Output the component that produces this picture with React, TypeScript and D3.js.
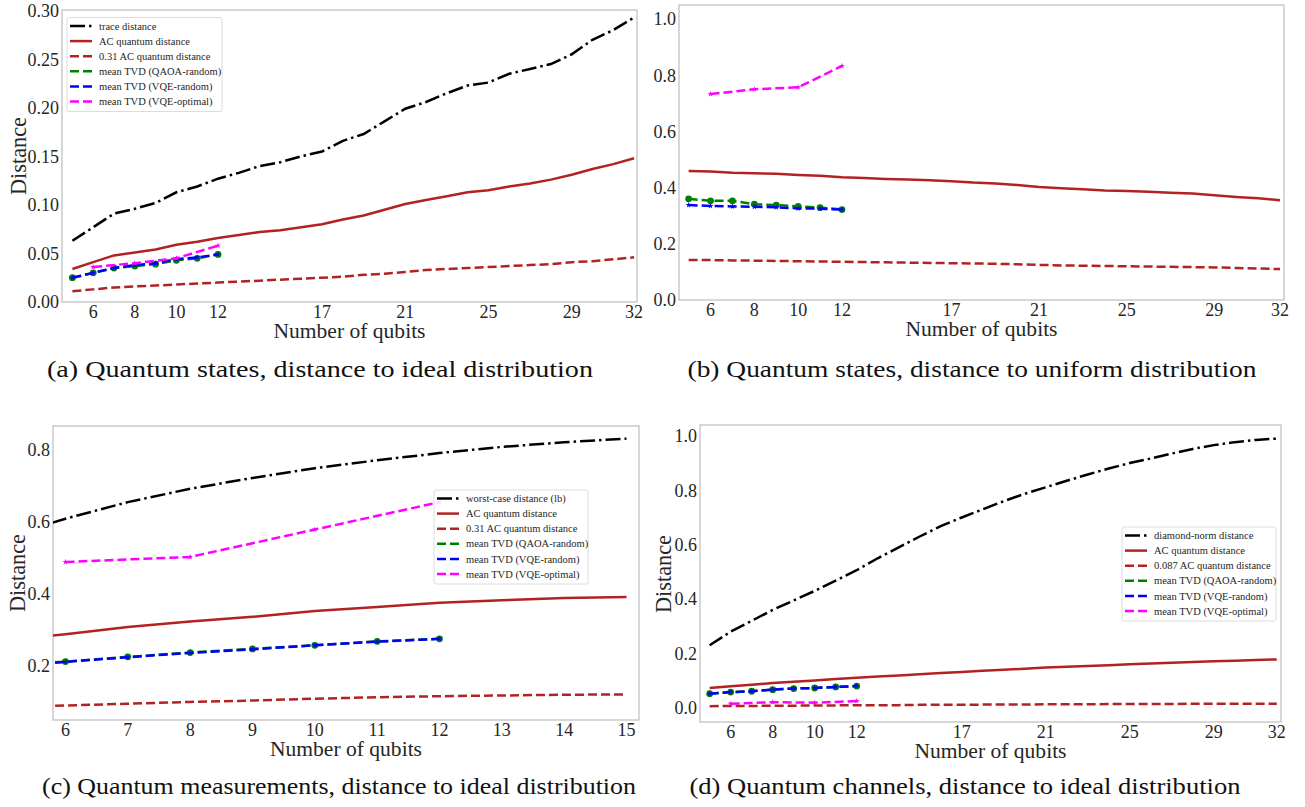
import React from "react";
import * as d3 from "d3";

// ---- data ----
const qubitsAll = [5, 6, 7, 8, 9, 10, 11, 12, 13, 14, 15, 16, 17, 18, 19, 20, 21, 22, 23, 24, 25, 26, 27, 28, 29, 30, 31, 32];
const qubitsSmall = [5, 6, 7, 8, 9, 10, 11, 12];
const qubitsEven = [6, 8, 10, 12];
const qubitsMeas = [5, 6, 7, 8, 9, 10, 11, 12, 13, 14, 15];

const ticksWide = [6, 8, 10, 12, 17, 21, 25, 29, 32];
const ticksMeas = [6, 7, 8, 9, 10, 11, 12, 13, 14, 15];

// (a) quantum states, ideal distribution
const traceDistA = [0.063, 0.077, 0.091, 0.096, 0.102, 0.113, 0.119, 0.127, 0.133, 0.14, 0.144, 0.15, 0.155, 0.166, 0.173, 0.186, 0.199, 0.206, 0.215, 0.223, 0.226, 0.235, 0.24, 0.245, 0.255, 0.27, 0.28, 0.293];
const acA = [0.034, 0.041, 0.048, 0.051, 0.054, 0.059, 0.062, 0.066, 0.069, 0.072, 0.074, 0.077, 0.08, 0.085, 0.089, 0.095, 0.101, 0.105, 0.109, 0.113, 0.115, 0.119, 0.122, 0.126, 0.131, 0.137, 0.142, 0.148];
const acScaledA = [0.011, 0.013, 0.015, 0.016, 0.017, 0.018, 0.019, 0.02, 0.021, 0.022, 0.023, 0.024, 0.025, 0.026, 0.028, 0.029, 0.031, 0.033, 0.034, 0.035, 0.036, 0.037, 0.038, 0.039, 0.041, 0.042, 0.044, 0.046];
const qaoaA = [0.025, 0.03, 0.035, 0.037, 0.039, 0.043, 0.045, 0.049];
const vqeRandA = [0.025, 0.03, 0.035, 0.038, 0.04, 0.044, 0.046, 0.049];
const vqeOptA = [0.036, 0.04, 0.045, 0.058];

// (b) quantum states, uniform distribution
const acB = [0.459, 0.457, 0.453, 0.451, 0.449, 0.445, 0.442, 0.437, 0.434, 0.431, 0.429, 0.426, 0.423, 0.418, 0.415, 0.409, 0.402, 0.398, 0.394, 0.39, 0.388, 0.385, 0.382, 0.379, 0.373, 0.367, 0.362, 0.355];
const acScaledB = [0.142, 0.142, 0.141, 0.14, 0.139, 0.138, 0.137, 0.136, 0.135, 0.134, 0.133, 0.132, 0.131, 0.13, 0.129, 0.127, 0.125, 0.123, 0.122, 0.121, 0.12, 0.119, 0.118, 0.117, 0.116, 0.114, 0.112, 0.11];
const qaoaB = [0.36, 0.353, 0.353, 0.341, 0.338, 0.333, 0.329, 0.322];
const vqeRandB = [0.338, 0.335, 0.333, 0.332, 0.33, 0.326, 0.325, 0.322];
const vqeOptB = [0.733, 0.75, 0.757, 0.833];

// (c) quantum measurements
const worstC = [0.555, 0.608, 0.654, 0.691, 0.721, 0.748, 0.77, 0.79, 0.807, 0.82, 0.83];
const acC = [0.268, 0.288, 0.308, 0.323, 0.336, 0.352, 0.363, 0.375, 0.382, 0.388, 0.391];
const acScaledC = [0.085, 0.09, 0.095, 0.1, 0.104, 0.109, 0.113, 0.116, 0.118, 0.12, 0.121];
const qaoaC = [0.199, 0.212, 0.225, 0.237, 0.247, 0.257, 0.268, 0.275];
const vqeRandC = [0.199, 0.211, 0.224, 0.236, 0.246, 0.257, 0.267, 0.275];
const vqeOptC = [0.488, 0.502, 0.578, 0.654];

// (d) quantum channels
const diamondD = [0.23, 0.28, 0.32, 0.36, 0.395, 0.43, 0.468, 0.506, 0.55, 0.59, 0.63, 0.668, 0.7, 0.73, 0.76, 0.787, 0.811, 0.835, 0.858, 0.88, 0.9, 0.917, 0.935, 0.952, 0.966, 0.977, 0.985, 0.99];
const acD = [0.073, 0.079, 0.085, 0.091, 0.096, 0.101, 0.106, 0.111, 0.115, 0.119, 0.124, 0.128, 0.132, 0.136, 0.14, 0.144, 0.148, 0.151, 0.154, 0.157, 0.16, 0.163, 0.166, 0.169, 0.171, 0.173, 0.176, 0.178];
const acScaledD = [0.006, 0.007, 0.007, 0.008, 0.008, 0.009, 0.009, 0.01, 0.01, 0.01, 0.011, 0.011, 0.011, 0.012, 0.012, 0.012, 0.013, 0.013, 0.013, 0.014, 0.014, 0.014, 0.014, 0.015, 0.015, 0.015, 0.015, 0.015];
const qaoaD = [0.052, 0.058, 0.061, 0.067, 0.071, 0.073, 0.077, 0.08];
const vqeRandD = [0.052, 0.058, 0.061, 0.067, 0.071, 0.073, 0.077, 0.08];
const vqeOptD = [0.015, 0.021, 0.019, 0.025];

const tvdLabels = ["mean TVD (QAOA-random)", "mean TVD (VQE-random)", "mean TVD (VQE-optimal)"];

const FONT = "'Liberation Serif', 'DejaVu Serif', serif";
const FIREBRICK = "#b22222";
const DASH = "9,4";

type Marker = "circle" | "star" | null;
interface Series {
  label: string;
  xs: number[];
  ys: number[];
  color: string;
  dash: string | null;
  marker: Marker;
}

// line styles, in matplotlib plotting order
const STYLES: { color: string; dash: string | null; marker: Marker }[] = [
  { color: "#000000", dash: "15,4,2.5,4", marker: null },
  { color: FIREBRICK, dash: null, marker: null },
  { color: FIREBRICK, dash: DASH, marker: null },
  { color: "#008000", dash: DASH, marker: "circle" },
  { color: "#0000ff", dash: DASH, marker: "star" },
  { color: "#ff00ff", dash: DASH, marker: "star" },
];

function buildSeries(styleIdx: number[], labels: string[], xsList: number[][], ysList: number[][]): Series[] {
  return labels.map((label, i) => ({ label, xs: xsList[i], ys: ysList[i], ...STYLES[styleIdx[i]] }));
}

interface PanelProps {
  id: string;
  box: { left: number; right: number; top: number; bottom: number };
  xDomain: [number, number];
  yDomain: [number, number];
  xTicks: number[];
  yTicks: number[];
  yFmt: string;
  series: Series[];
  legend?: { x: number; y: number; w: number; h: number };
  yLabel?: { x: number; y: number };
  caption: { x: number; y: number; text: string; len: number };
}

const Panel: React.FC<PanelProps> = ({ id, box, xDomain, yDomain, xTicks, yTicks, yFmt, series, legend, yLabel, caption }) => {
  const x = d3.scaleLinear().domain(xDomain).range([box.left, box.right]);
  const y = d3.scaleLinear().domain(yDomain).range([box.bottom, box.top]);
  const fmt = d3.format(yFmt);
  const starPath = d3.symbol().type(d3.symbolStar).size(11)() as string;
  const pathFor = (s: Series) =>
    d3
      .line<number>()
      .x((_, i) => x(s.xs[i]))
      .y((d) => y(d))(s.ys) as string;

  return (
    <g>
      <defs>
        <clipPath id={id}>
          <rect x={box.left} y={box.top} width={box.right - box.left} height={box.bottom - box.top} />
        </clipPath>
      </defs>
      <rect
        x={box.left}
        y={box.top}
        width={box.right - box.left}
        height={box.bottom - box.top}
        fill="none"
        stroke="#bcbcbc"
        strokeWidth={1.2}
      />
      {yTicks.map((t) => (
        <text key={"y" + t} x={box.left - 3} y={y(t)} dy="0.35em" textAnchor="end" fontSize={18} fill="#262626" fontFamily={FONT}>
          {fmt(t)}
        </text>
      ))}
      {xTicks.map((t) => (
        <text key={"x" + t} x={x(t)} y={box.bottom + 16} textAnchor="middle" fontSize={18} fill="#262626" fontFamily={FONT}>
          {t}
        </text>
      ))}
      <g clipPath={`url(#${id})`}>
        {series.map((s) => (
          <g key={s.label}>
            <path d={pathFor(s)} fill="none" stroke={s.color} strokeWidth={2.5} strokeDasharray={s.dash ?? undefined} />
            {s.marker === "circle" &&
              s.ys.map((v, i) => <circle key={i} cx={x(s.xs[i])} cy={y(v)} r={3.4} fill={s.color} />)}
            {s.marker === "star" &&
              s.ys.map((v, i) => (
                <path key={i} d={starPath} transform={`translate(${x(s.xs[i])},${y(v)})`} fill={s.color} />
              ))}
          </g>
        ))}
      </g>
      {legend && (
        <g>
          <rect x={legend.x} y={legend.y} width={legend.w} height={legend.h} rx={2} fill="#ffffff" fillOpacity={0.85} stroke="#dddddd" strokeWidth={1} />
          {series.map((s, i) => {
            const ry = legend.y + 8.5 + i * 15.1;
            return (
              <g key={"l" + s.label}>
                <line x1={legend.x + 3} x2={legend.x + 25} y1={ry} y2={ry} stroke={s.color} strokeWidth={2.5} strokeDasharray={s.dash ?? undefined} />
                <text x={legend.x + 32} y={ry} dy="0.35em" fontSize={10.5} fill="#262626" fontFamily={FONT}>
                  {s.label}
                </text>
              </g>
            );
          })}
        </g>
      )}
      <text
        x={(box.left + box.right) / 2}
        y={box.bottom + 36}
        textAnchor="middle"
        fontSize={22}
        fill="#262626"
        fontFamily={FONT}
        textLength={152}
        lengthAdjust="spacingAndGlyphs"
      >
        Number of qubits
      </text>
      {yLabel && (
        <text
          transform={`translate(${yLabel.x},${yLabel.y}) rotate(-90)`}
          textAnchor="middle"
          fontSize={23}
          fill="#262626"
          fontFamily={FONT}
          textLength={78}
          lengthAdjust="spacingAndGlyphs"
        >
          Distance
        </text>
      )}
      <text
        x={caption.x}
        y={caption.y}
        textAnchor="middle"
        fontSize={23}
        fill="#111111"
        fontFamily={FONT}
        textLength={caption.len}
        lengthAdjust="spacingAndGlyphs"
      >
        {caption.text}
      </text>
    </g>
  );
};

export default function App() {
  const seriesA = buildSeries(
    [0, 1, 2, 3, 4, 5],
    ["trace distance", "AC quantum distance", "0.31 AC quantum distance", ...tvdLabels],
    [qubitsAll, qubitsAll, qubitsAll, qubitsSmall, qubitsSmall, qubitsEven],
    [traceDistA, acA, acScaledA, qaoaA, vqeRandA, vqeOptA]
  );
  const seriesB = buildSeries(
    [1, 2, 3, 4, 5],
    ["AC quantum distance", "0.31 AC quantum distance", ...tvdLabels],
    [qubitsAll, qubitsAll, qubitsSmall, qubitsSmall, qubitsEven],
    [acB, acScaledB, qaoaB, vqeRandB, vqeOptB]
  );
  const seriesC = buildSeries(
    [0, 1, 2, 3, 4, 5],
    ["worst-case distance (lb)", "AC quantum distance", "0.31 AC quantum distance", ...tvdLabels],
    [qubitsMeas, qubitsMeas, qubitsMeas, qubitsSmall, qubitsSmall, qubitsEven],
    [worstC, acC, acScaledC, qaoaC, vqeRandC, vqeOptC]
  );
  const seriesD = buildSeries(
    [0, 1, 2, 3, 4, 5],
    ["diamond-norm distance", "AC quantum distance", "0.087 AC quantum distance", ...tvdLabels],
    [qubitsAll, qubitsAll, qubitsAll, qubitsSmall, qubitsSmall, qubitsEven],
    [diamondD, acD, acScaledD, qaoaD, vqeRandD, vqeOptD]
  );

  return (
    <svg width={1305} height={807} style={{ position: "absolute", left: 0, top: 0, background: "#ffffff" }}>
      <rect x={0} y={0} width={1305} height={807} fill="#ffffff" />
      <Panel
        id="clipA"
        box={{ left: 62, right: 637, top: 10, bottom: 302 }}
        xDomain={[4.5, 32.14]}
        yDomain={[0, 0.3007]}
        xTicks={ticksWide}
        yTicks={[0, 0.05, 0.1, 0.15, 0.2, 0.25, 0.3]}
        yFmt=".2f"
        series={seriesA}
        legend={{ x: 67, y: 17.5, w: 155, h: 94 }}
        yLabel={{ x: 26, y: 156 }}
        caption={{ x: 320, y: 377, text: "(a) Quantum states, distance to ideal distribution", len: 546 }}
      />
      <Panel
        id="clipB"
        box={{ left: 679, right: 1284, top: 5, bottom: 300 }}
        xDomain={[4.56, 32.18]}
        yDomain={[0, 1.05]}
        xTicks={ticksWide}
        yTicks={[0, 0.2, 0.4, 0.6, 0.8, 1.0]}
        yFmt=".1f"
        series={seriesB}
        caption={{ x: 972, y: 377, text: "(b) Quantum states, distance to uniform distribution", len: 569 }}
      />
      <Panel
        id="clipC"
        box={{ left: 53, right: 639, top: 426, bottom: 720 }}
        xDomain={[5.8, 15.2]}
        yDomain={[0.05, 0.865]}
        xTicks={ticksMeas}
        yTicks={[0.2, 0.4, 0.6, 0.8]}
        yFmt=".1f"
        series={seriesC}
        legend={{ x: 434, y: 490, w: 154, h: 94 }}
        yLabel={{ x: 25, y: 573 }}
        caption={{ x: 339, y: 794, text: "(c) Quantum measurements, distance to ideal distribution", len: 594 }}
      />
      <Panel
        id="clipD"
        box={{ left: 700, right: 1281, top: 425, bottom: 722 }}
        xDomain={[4.54, 32.2]}
        yDomain={[-0.052, 1.04]}
        xTicks={ticksWide}
        yTicks={[0, 0.2, 0.4, 0.6, 0.8, 1.0]}
        yFmt=".1f"
        series={seriesD}
        legend={{ x: 1122, y: 527, w: 154, h: 94 }}
        yLabel={{ x: 671, y: 574 }}
        caption={{ x: 965, y: 794, text: "(d) Quantum channels, distance to ideal distribution", len: 551 }}
      />
    </svg>
  );
}
